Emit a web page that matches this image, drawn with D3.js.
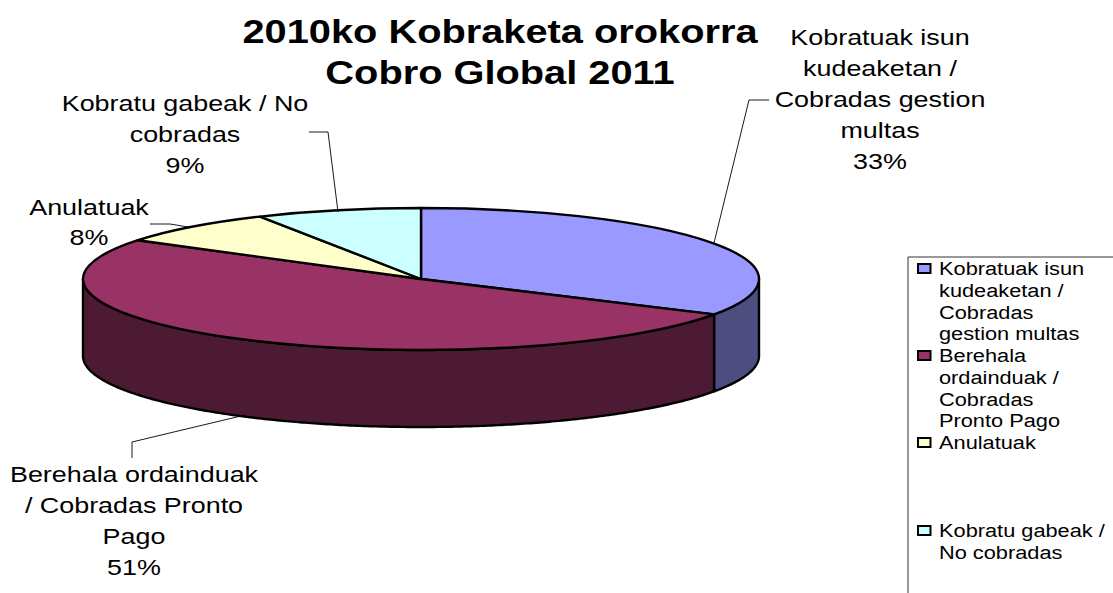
<!DOCTYPE html>
<html><head><meta charset="utf-8">
<script src="https://cdn.jsdelivr.net/npm/d3@7/dist/d3.min.js"></script>
<style>html,body{margin:0;padding:0;background:#fff}svg{display:block}text{font-family:"Liberation Sans",Arial,sans-serif;fill:#000}</style>
</head><body><svg id="c" width="1113" height="593"></svg>
<script>
const categories = ["Kobratuak isun kudeaketan / Cobradas gestion multas","Berehala ordainduak / Cobradas Pronto Pago","Anulatuak","Kobratu gabeak / No cobradas"];
const sliceShares = [33.3, 50.9, 7.9, 7.9];
const percentLabels = ["33%","51%","8%","9%"];
const topColors = ["#9999FF","#993366","#FFFFCC","#CCFFFF"];
const sideColors = ["#4D4D80","#4D1A33","#80806A","#6A8080"];
const titleLines = ["2010ko Kobraketa orokorra","Cobro Global 2011"];
const labelLines = [["Kobratuak isun","kudeaketan /","Cobradas gestion","multas"],["Berehala ordainduak","/ Cobradas Pronto","Pago"],["Anulatuak"],["Kobratu gabeak / No","cobradas"]];
const legendLines = [["Kobratuak isun","kudeaketan /","Cobradas","gestion multas"],["Berehala","ordainduak /","Cobradas","Pronto Pago"],["Anulatuak"],["Kobratu gabeak /","No cobradas"]];

const svg = d3.select("#c");
const cx=421, cy=279, rx=338, ry=71, depth=77, sw=2.4;
const pie = d3.pie().sort(null).value(d=>d);
const arcs = pie(sliceShares);

// sides
const px=a=>cx+rx*Math.sin(a), py=a=>cy-ry*Math.cos(a);
const side = d3.area().x(a=>px(a)).y0(a=>py(a)).y1(a=>py(a)+depth);
arcs.forEach((d,i)=>{
  const a0=Math.max(d.startAngle,Math.PI/2), a1=Math.min(d.endAngle,Math.PI*1.5);
  if(a1<=a0) return;
  const steps=d3.range(a0,a1,0.01).concat([a1]);
  svg.append("path").attr("d",side(steps)).attr("fill",sideColors[i]).attr("stroke","#000").attr("stroke-width",sw).attr("stroke-linejoin","round");
});
// top face
const arc=d3.arc().innerRadius(0).outerRadius(rx);
const topFace=svg.append("g").attr("transform",`translate(${cx},${cy}) scale(1,${ry/rx})`);
topFace.selectAll("path").data(arcs).join("path").attr("d",arc)
  .attr("fill",(d,i)=>topColors[i]).attr("stroke","#000").attr("stroke-width",sw)
  .attr("stroke-linejoin","round").attr("vector-effect","non-scaling-stroke");

// leaders
const leaders=[[[714,243],[749,100],[769,100]],[[245,415],[132,442],[132,458]],[[188,227],[170,224],[150,224]],[[338,212],[328,132],[309,132]]];
const ln=d3.line();
svg.selectAll("path.leader").data(leaders).join("path").attr("class","leader").attr("d",ln).attr("fill","none").attr("stroke","#000").attr("stroke-width",0.9);

// stretched text helper: the reference glyphs are wider than the font's natural width
function stretched(x,y,t,size,sx,anchor,bold){
  return svg.append("text").attr("transform",`translate(${x},${y}) scale(${sx},1)`)
    .attr("text-anchor",anchor).attr("font-size",size).attr("font-weight",bold?"bold":"normal").text(t);
}

// title
titleLines.forEach((t,i)=>stretched(500,43+i*41,t,34,1.17,"middle",true));

// labels
const labelPos=[{x:880,y:45},{x:134,y:482},{x:89,y:215},{x:185,y:111}];
labelLines.forEach((lines,i)=>{
  lines.concat([percentLabels[i]]).forEach((t,j)=>{
    stretched(labelPos[i].x,labelPos[i].y+j*(i===2?30:31),t,22.5,1.195,"middle",false);
  });
});

// legend
svg.append("path").attr("d","M908,593V257H1113").attr("fill","none").attr("stroke","#333").attr("stroke-width",1);
const rowStart=[275,362,449,537];
legendLines.forEach((lines,i)=>{
  svg.append("rect").attr("x",918).attr("y",rowStart[i]-11).attr("width",12.5).attr("height",9)
    .attr("fill",topColors[i]).attr("stroke","#000").attr("stroke-width",2);
  lines.forEach((t,j)=>{
    stretched(939,rowStart[i]+j*21.8,t,18,1.21,"start",false);
  });
});
</script></body></html>
